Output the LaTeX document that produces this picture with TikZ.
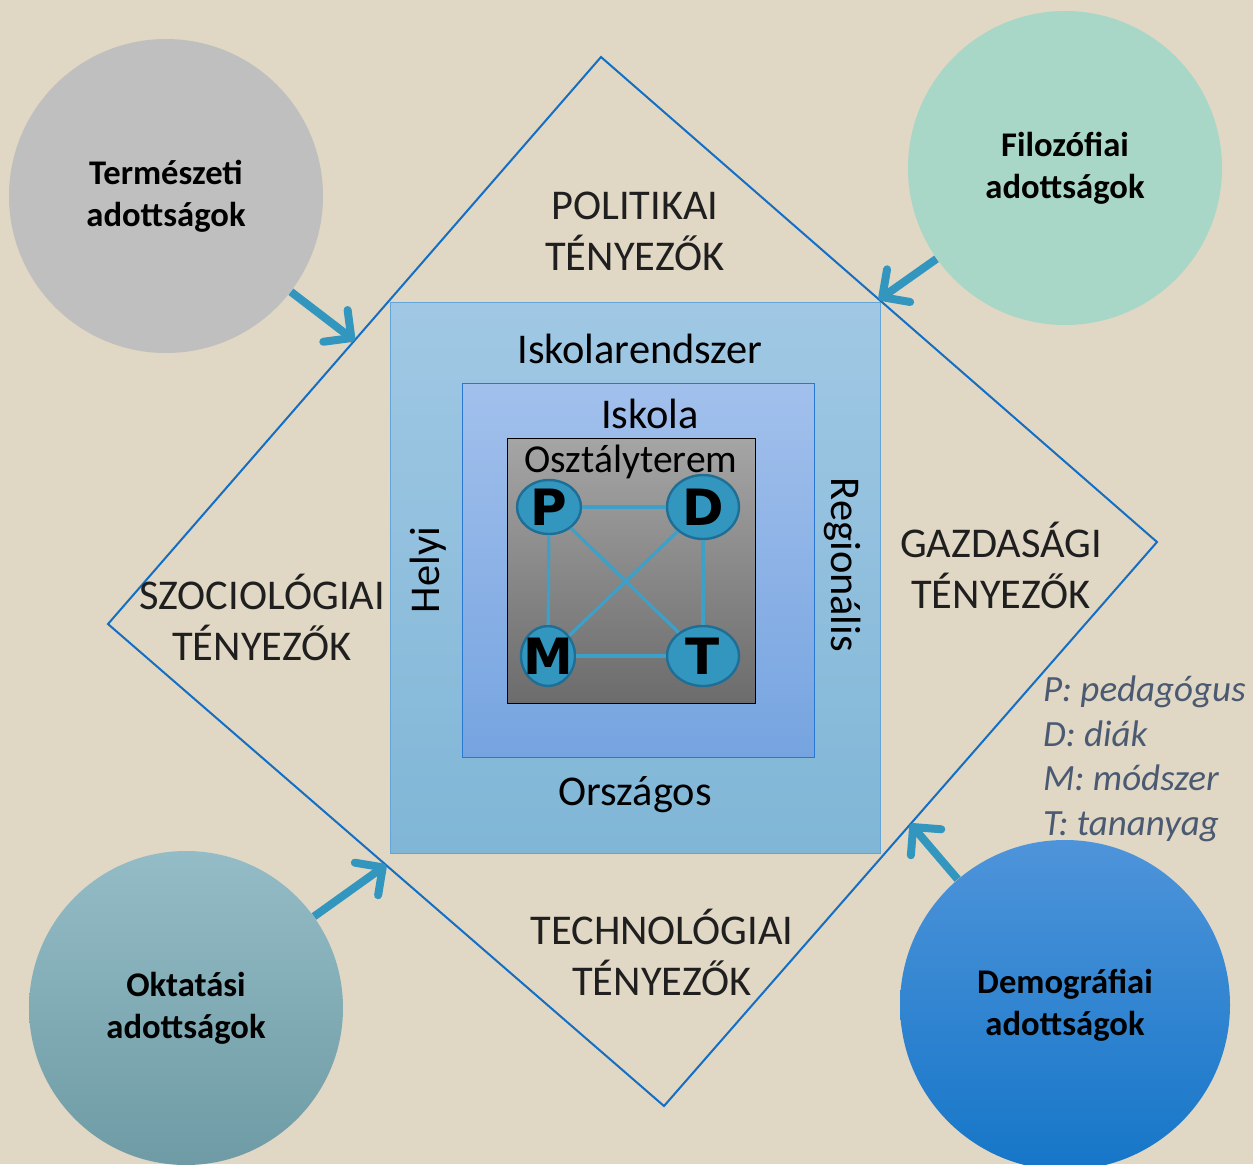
\documentclass[tikz,border=0pt]{standalone}
\usepackage{fontspec}
\setmainfont{Carlito}
\newfontfamily\blackfont{DejaVu Sans}
\usetikzlibrary{arrows.meta,shapes.geometric,calc}
\newcommand{\pdmt}[1]{\makebox[0pt]{\raisebox{-0.36em}[0pt][0pt]{#1}}}
\tikzset{
  factor/.style={font=\fontsize{21.2}{25.5}\selectfont, text=black!88, align=center},
  level/.style={font=\fontsize{21.2}{24}\selectfont, text=black, inner sep=0pt},
  given/.style={circle, minimum size=157pt, inner sep=0pt, align=center,
    font=\fontsize{17.3}{21}\selectfont\bfseries},
  actor/.style={ellipse, draw=actorrim, fill=actorfill, line width=1.2pt, inner sep=0pt,
    font=\blackfont\bfseries\fontsize{25}{25}\selectfont},
  link/.style={draw=linkblue, line width=1.6pt},
  push/.style={draw=arrowblue, line width=4pt, -{Straight Barb[length=10pt,width=20pt,round]}},
}
\begin{document}
\begin{tikzpicture}[x=0.5pt,y=-0.5pt]
		\definecolor{bgbeige}{RGB}{224,215,196}
		\definecolor{edgeblue}{RGB}{20,110,195}
		\definecolor{actorfill}{RGB}{50,150,190}
		\definecolor{actorrim}{RGB}{30,110,150}
		\definecolor{linkblue}{RGB}{60,160,200}
		\definecolor{arrowblue}{RGB}{50,150,190}
		\definecolor{legendgray}{RGB}{75,90,115}
		\clip (0,0) rectangle (1253,1164);
		\fill[bgbeige] (0,0) rectangle (1253,1164);
		% the diamond of factors
		\coordinate (dTop) at (601,57);
		\coordinate (dRight) at (1157,542);
		\coordinate (dBottom) at (664,1106);
		\coordinate (dLeft) at (108,624);
		\draw[edgeblue, line width=1pt] (dTop) -- (dRight) -- (dBottom) -- (dLeft) -- cycle;
		\coordinate (mTL) at ($(dLeft)!0.5!(dTop)$);
		\coordinate (mTR) at ($(dTop)!0.5!(dRight)$);
		\coordinate (mBL) at ($(dLeft)!0.5!(dBottom)$);
		\coordinate (mBR) at ($(dBottom)!0.5!(dRight)$);
		% nested levels
		\draw[draw={rgb,255:red,100;green,165;blue,215}, top color={rgb,255:red,160;green,200;blue,228},
			bottom color={rgb,255:red,128;green,182;blue,214}] (390,302) rectangle (880,853);
		\draw[draw={rgb,255:red,40;green,120;blue,210}, top color={rgb,255:red,162;green,192;blue,236},
			bottom color={rgb,255:red,118;green,164;blue,224}] (462,383) rectangle (814,757);
		\draw[black, top color={rgb,255:red,165;green,165;blue,165},
			bottom color={rgb,255:red,108;green,108;blue,108}] (507,438) rectangle (755,703);
		\node[level] (system) at (640,349) {Iskolarendszer};
		\node[level] (school) at (650,414) {Iskola};
		\node[level, font=\fontsize{19.8}{24}\selectfont] (room) at (631,462) {Osztályterem};
		\node[level, rotate=90] (local) at (428,570) {Helyi};
		\node[level, rotate=-90] (region) at (843,565) {Regionális};
		\node[level] (nation) at (635,795) {Országos};
		% factors
		\node[factor] (politic) at (635,231) {POLITIKAI\\TÉNYEZŐK};
		\node[factor] (economy) at (1001,565) {GAZDASÁGI\\TÉNYEZŐK};
		\node[factor] (society) at (262,617) {SZOCIOLÓGIAI\\TÉNYEZŐK};
		\node[factor] (techno) at (662,952) {TECHNOLÓGIAI\\TÉNYEZŐK};
		% P D M T
		\node[actor, minimum width=32pt, minimum height=27pt] (P) at (549,507) {\pdmt{P}};
		\node[actor, minimum width=36pt, minimum height=32pt] (D) at (703,507) {\pdmt{D}};
		\node[actor, minimum width=27pt, minimum height=30pt] (M) at (548,656) {\pdmt{M}};
		\node[actor, minimum width=36pt, minimum height=30pt] (T) at (703,656) {\pdmt{T}};
		\draw[link] (P) -- (D);
		\draw[link] (P) -- (M);
		\draw[link] (P) -- (T);
		\draw[link] (D) -- (M);
		\draw[link] (D) -- (T);
		\draw[link] (M) -- (T);
		% circles of givens
		\node[given, fill={rgb,255:red,191;green,191;blue,191}] (natural) at (166,196) {Természeti\\adottságok};
		\node[given, fill={rgb,255:red,168;green,215;blue,200}] (philo) at (1065,168) {Filozófiai\\adottságok};
		\node[given, top color={rgb,255:red,148;green,188;blue,198}, bottom color={rgb,255:red,110;green,155;blue,165}]
			(teach) at (186,1008) {Oktatási\\adottságok};
		\node[given, minimum size=165pt, top color={rgb,255:red,78;green,148;blue,218}, bottom color={rgb,255:red,22;green,118;blue,200}]
			(demo) at (1065,1005) {Demográfiai\\adottságok};
		\draw[push] (natural) -- (mTL);
		\draw[push] (philo) -- (mTR);
		\draw[push] (teach) -- (mBL);
		\draw[push] (demo) -- (mBR);
		% legend
		\node[anchor=west, align=left, text=legendgray, font=\fontsize{18.5}{22.3}\selectfont\itshape]
			(legend) at (1036,759) {P: pedagógus\\D: diák\\M: módszer\\T: tananyag};
	\end{tikzpicture}
\end{document}
